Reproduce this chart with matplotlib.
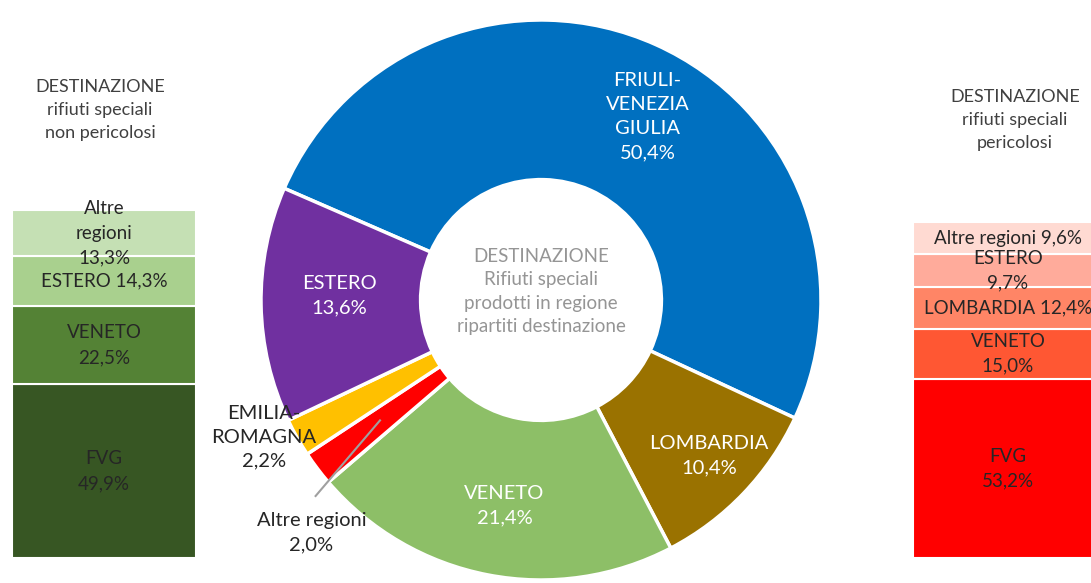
import matplotlib
matplotlib.use("Agg")
import numpy as np
from matplotlib import pyplot as plt

plt.rcParams['font.family'] = ['Lato', 'DejaVu Sans']

# donut: destination of special waste produced in region
pie_names = ["FRIULI-\nVENEZIA\nGIULIA", "LOMBARDIA", "VENETO", "Altre regioni",
             "EMILIA-\nROMAGNA", "ESTERO"]
pie_values = [50.4, 10.4, 21.4, 2.0, 2.2, 13.6]
pie_colors = ["#0070C0", "#9A7200", "#8DBF67", "#FF0000", "#FFC000", "#7030A0"]

# left bar: non hazardous
left_names = ["FVG", "VENETO", "ESTERO", "Altre\nregioni"]
left_values = [49.9, 22.5, 14.3, 13.3]
left_colors = ["#375623", "#548235", "#A9D08E", "#C5E0B4"]

# right bar: hazardous
right_names = ["FVG", "VENETO", "LOMBARDIA", "ESTERO", "Altre regioni"]
right_values = [53.2, 15.0, 12.4, 9.7, 9.6]
right_colors = ["#FF0000", "#FF5733", "#FF8566", "#FFAB9B", "#FFDAD2"]


def pct(v):
    return f"{v:.1f}%".replace(".", ",")


W, H = 1091, 583
fig = plt.figure(figsize=(W / 100, H / 100), dpi=100)
fig.patch.set_facecolor("white")

# ---- donut ----
cx, cy, r = 541, 300, 280
ax = fig.add_axes([(cx - r) / W, (H - cy - r) / H, 2 * r / W, 2 * r / H])
ax.pie(pie_values, colors=pie_colors, startangle=156.5, counterclock=False,
       radius=1, wedgeprops=dict(width=0.57, edgecolor="white", linewidth=2.5))
ax.set_xlim(-1, 1)
ax.set_ylim(-1, 1)
ax.set_aspect("equal")
ax.axis("off")

# label spots (data coords) picked by eye
label_pos = {
    "FRIULI-\nVENEZIA\nGIULIA": (0.38, 0.655, "white"),
    "LOMBARDIA": (0.60, -0.555, "white"),
    "VENETO": (-0.13, -0.735, "white"),
    "ESTERO": (-0.72, 0.015, "white"),
    "EMILIA-\nROMAGNA": (-0.99, -0.49, "#262626"),
    "Altre regioni": (-0.82, -0.83, "#262626"),
}
for name, val in zip(pie_names, pie_values):
    x, y, c = label_pos[name]
    ax.text(x, y, name + "\n" + pct(val), ha="center", va="center", color=c,
            fontsize=14.5, linespacing=1.5, zorder=5)
ax.plot([-0.575, -0.805], [-0.43, -0.70], color="#A0A0A0", lw=1.5)
ax.text(0, 0.03, "DESTINAZIONE\nRifiuti speciali\nprodotti in regione\nripartiti destinazione",
        ha="center", va="center", color="#959595", fontsize=13.5, linespacing=1.45)


# ---- stacked bars ----
def stacked(left_px, width_px, top_px, bottom_px, names, values, colors, total, one_line):
    bax = fig.add_axes([left_px / W, (H - bottom_px) / H, width_px / W,
                        (bottom_px - top_px) / H])
    bottom = 0
    for n, v, c in zip(names, values, colors):
        bax.bar(0.5, v, width=1, bottom=bottom, color=c, edgecolor="white", linewidth=1.5)
        sep = " " if n in one_line else "\n"
        bax.text(0.5, bottom + v / 2, n + sep + pct(v), ha="center", va="center",
                 color="#262626", fontsize=13.5, linespacing=1.55)
        bottom += v
    bax.set_xlim(0, 1)
    bax.set_ylim(0, total)
    bax.axis("off")
    return bax


stacked(12, 184, 210, 558, left_names, left_values, left_colors,
        sum(left_values), ["ESTERO"])
stacked(913, 190, 222, 558, right_names, right_values, right_colors,
        sum(right_values), ["Altre regioni", "LOMBARDIA"])

fig.text(100 / W, 1 - 110 / H, "DESTINAZIONE\nrifiuti speciali\nnon pericolosi",
         ha="center", va="center", color="#404040", fontsize=13, linespacing=1.55)
fig.text(1015 / W, 1 - 120 / H, "DESTINAZIONE\nrifiuti speciali\npericolosi",
         ha="center", va="center", color="#404040", fontsize=13, linespacing=1.55)

fig.savefig("out.png", dpi=100)
